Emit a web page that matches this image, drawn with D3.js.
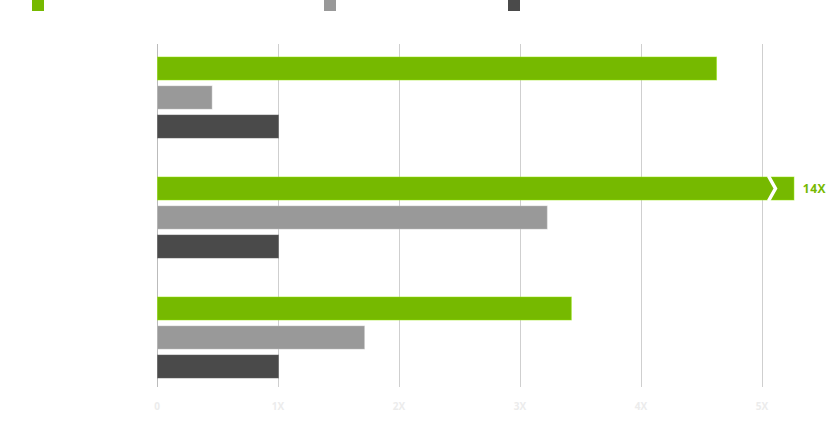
<!DOCTYPE html>
<html>
<head>
<meta charset="utf-8">
<script src="https://cdn.jsdelivr.net/npm/d3@7"></script>
<style>
  body { margin: 0; background: #fff; }
  svg { display: block; font-family: "Open Sans", sans-serif; }
</style>
</head>
<body>
<div id="chart"></div>
<script>
// data
var groups = ["A", "B", "C"];
var seriesNames = ["s1", "s2", "s3"];
var seriesColors = ["#76b900", "#999999", "#4a4a4a"];
var green = [4.62, 14, 3.42];
var grey = [0.45, 3.22, 1.71];
var dark = [1, 1, 1];
var tickValues = [0, 1, 2, 3, 4, 5];
var tickLabels = ["0", "1X", "2X", "3X", "4X", "5X"];
var breakLimit = 5.26; // bars past this get cut with a chevron
var breakLabel = ["", "14X", ""];

var width = 827, height = 440;

var svg = d3.select("#chart").append("svg")
  .attr("width", width)
  .attr("height", height);

var x = d3.scaleLinear().domain([0, 5]).range([157, 762]);

var y0 = d3.scaleBand().domain(groups).range([46, 406]);
var y1 = d3.scaleBand().domain(seriesNames).range([0, 81]).paddingInner(6 / 29);

// legend swatches
svg.append("g").selectAll("rect")
  .data(seriesColors)
  .join("rect")
    .attr("x", function(d, i) { return [32, 324, 508][i]; })
    .attr("y", 0)
    .attr("width", 12)
    .attr("height", 11)
    .attr("fill", function(d) { return d; });

// grid
svg.append("g")
  .selectAll("line")
  .data(tickValues)
  .join("line")
    .attr("x1", function(d) { return x(d) + 0.5; })
    .attr("x2", function(d) { return x(d) + 0.5; })
    .attr("y1", 44)
    .attr("y2", 387)
    .attr("stroke", function(d) { return d == 0 ? "#bbb" : "#cfcfcf"; })
    .attr("stroke-width", 1);

// tick labels
svg.append("g")
  .selectAll("text")
  .data(tickValues)
  .join("text")
    .attr("x", function(d) { return x(d); })
    .attr("y", 410)
    .attr("text-anchor", "middle")
    .attr("font-size", 10)
    .attr("font-weight", "bold")
    .attr("fill", "#ececec")
    .text(function(d, i) { return tickLabels[i]; });

var rows = [];
groups.forEach(function(g, gi) {
  [green, grey, dark].forEach(function(arr, si) {
    rows.push({group: g, gi: gi, series: seriesNames[si], color: seriesColors[si], value: arr[gi]});
  });
});

var bars = svg.append("g");
bars.selectAll("rect")
  .data(rows)
  .join("rect")
    .attr("x", x(0) + 0.5)
    .attr("y", function(d) { return y0(d.group) + y1(d.series) + 11; })
    .attr("width", function(d) { return x(Math.min(d.value, breakLimit)) - x(0); })
    .attr("height", y1.bandwidth())
    .attr("fill", function(d) { return d.color; })
    .attr("stroke", function(d) { return d3.color(d.color).brighter(0.6); })
    .attr("stroke-opacity", 0.5)
    .attr("stroke-width", 1);

// broken bars: chevron + label
var broken = rows.filter(function(d) { return d.value > breakLimit; });
broken.forEach(function(d) {
  var top = y0(d.group) + y1(d.series) + 11;
  var h = y1.bandwidth();
  var cx = x(breakLimit) - 25;
  svg.append("polyline")
    .attr("points", [[cx, top - 1], [cx + 7, top + h / 2], [cx, top + h + 1]].join(" "))
    .attr("fill", "none")
    .attr("stroke", "#fff")
    .attr("stroke-width", 3.5);
  svg.append("text")
    .attr("x", 826)
    .attr("y", top + h / 2 + 4.5)
    .attr("text-anchor", "end")
    .attr("font-size", 12)
    .attr("font-weight", "bold")
    .attr("letter-spacing", 0.5)
    .attr("fill", "#76b900")
    .text(breakLabel[d.gi]);
});
</script>
</body>
</html>
